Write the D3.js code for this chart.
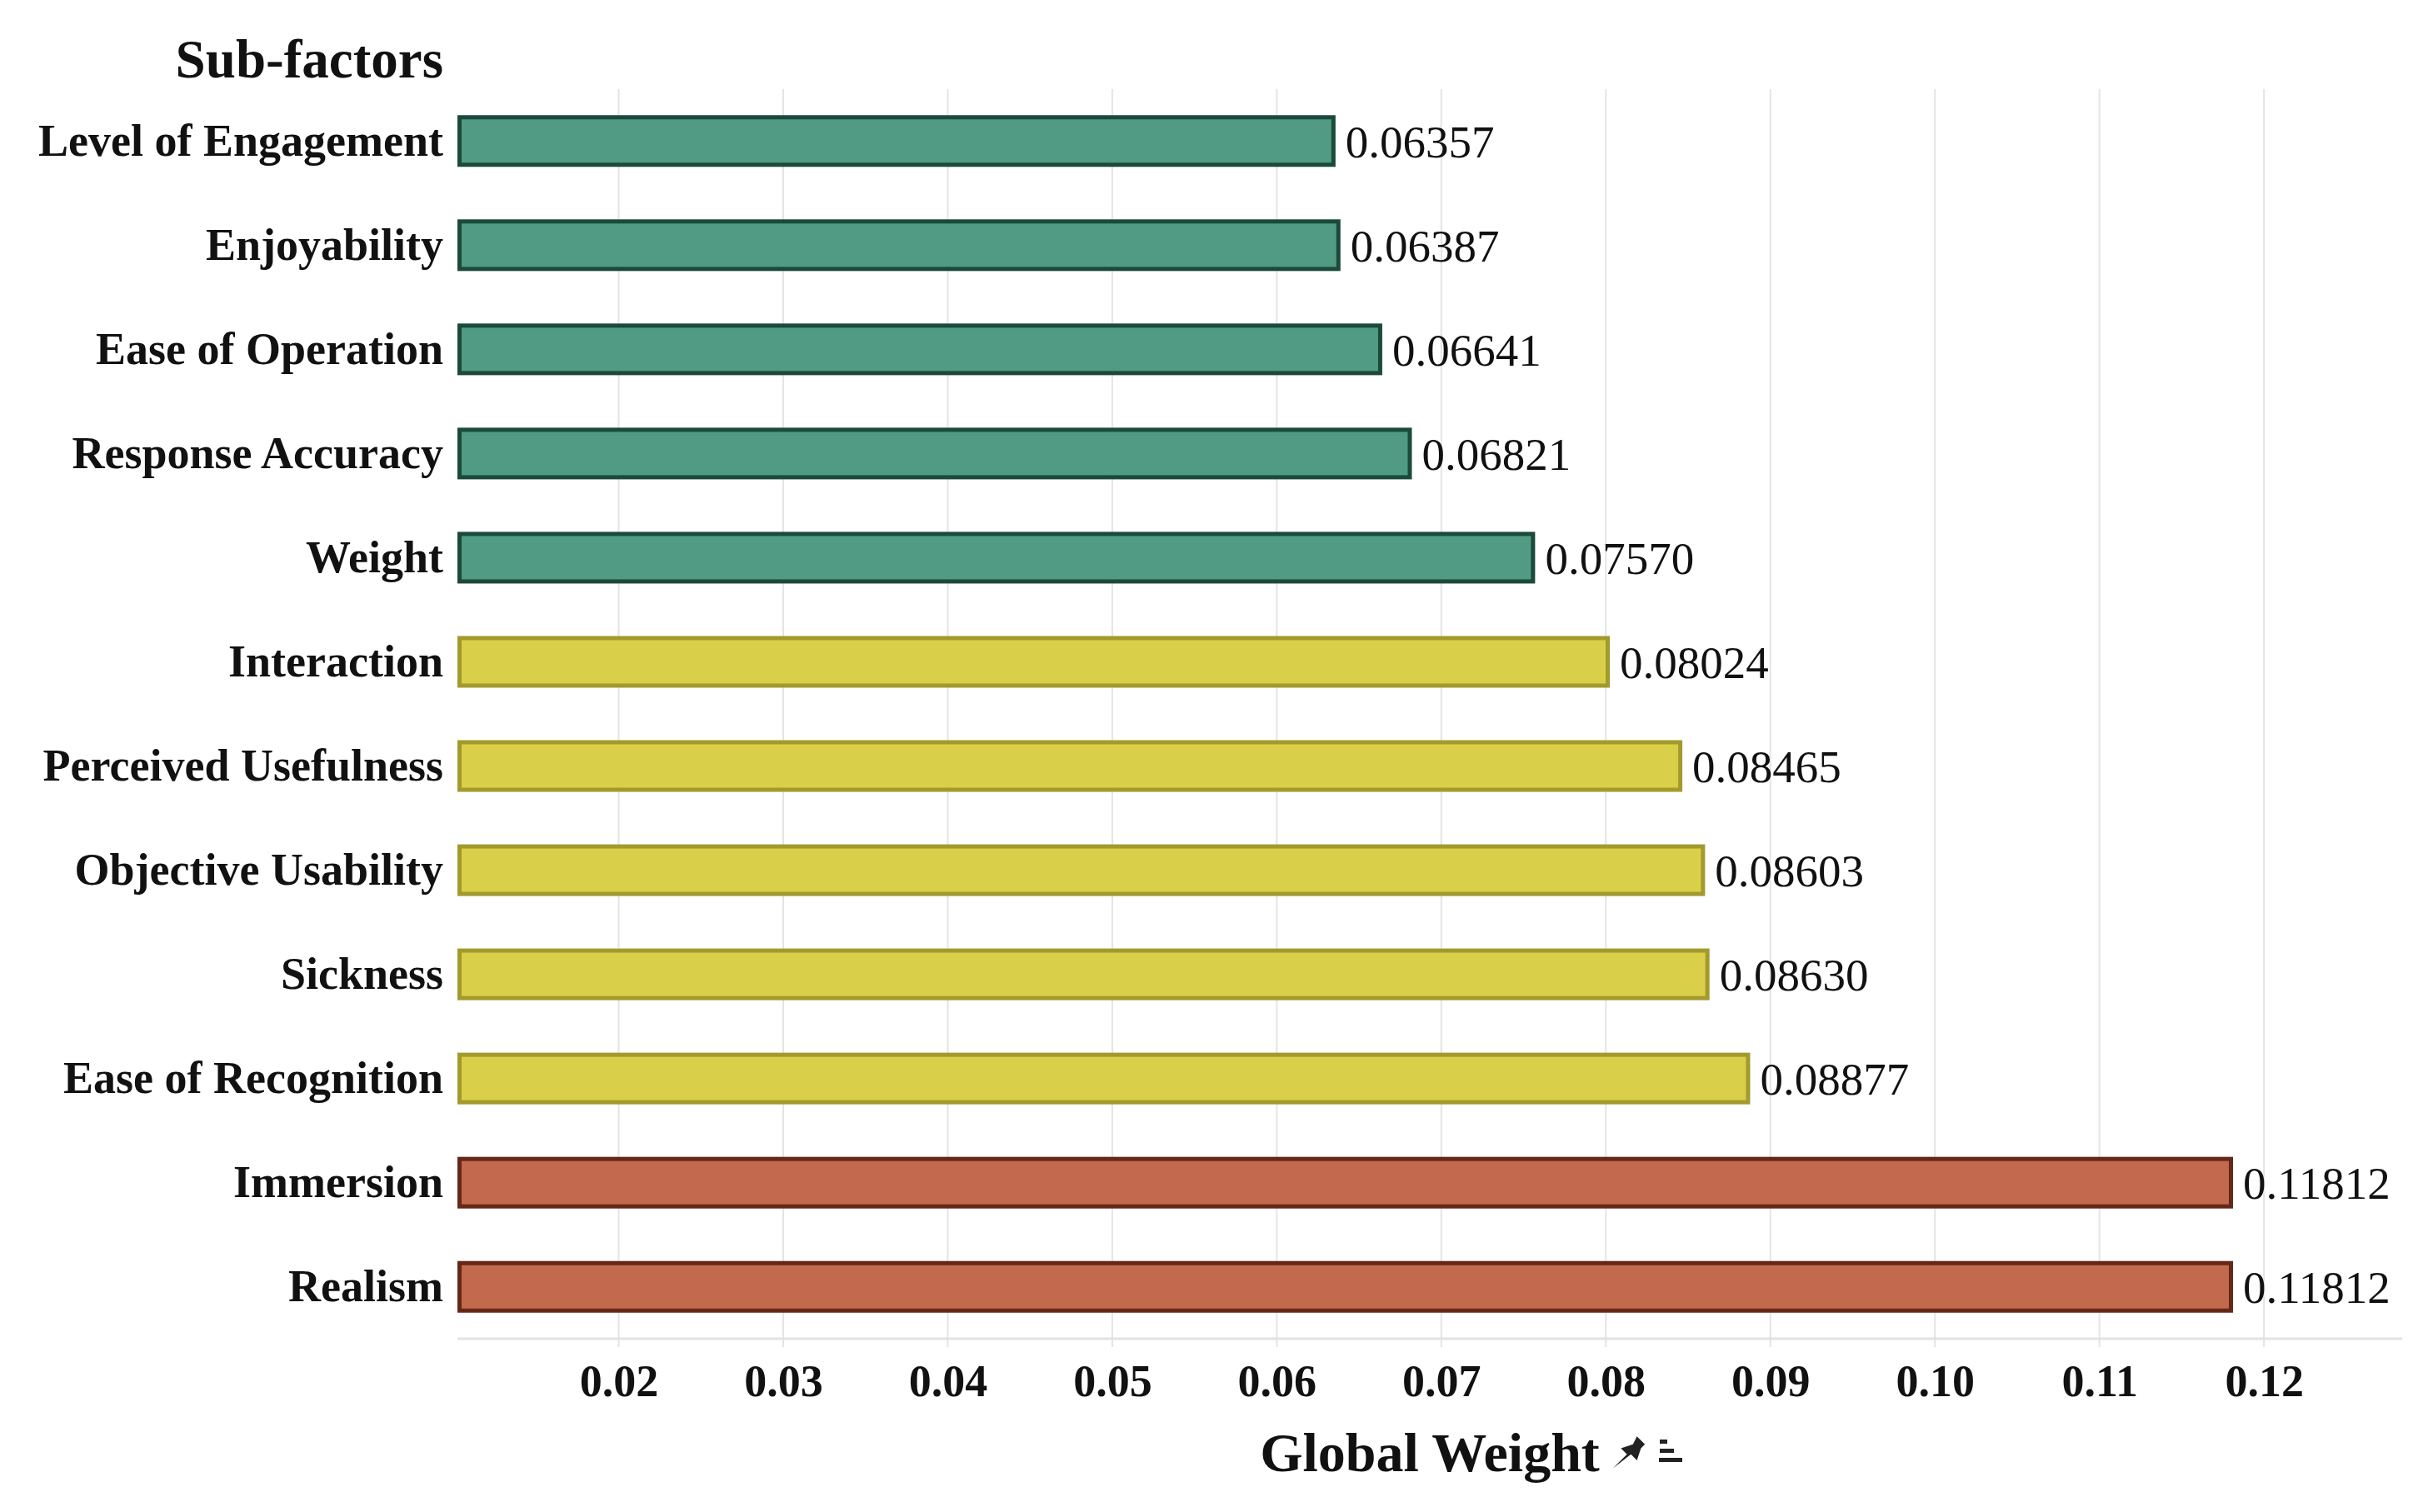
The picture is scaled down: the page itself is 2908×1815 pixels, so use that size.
<!DOCTYPE html>
<html>
<head>
<meta charset="utf-8">
<title>Sub-factors global weight</title>
<style>
  body { margin: 0; background: #fff; }
  text { font-family: "Liberation Serif", "Times New Roman", serif; fill: #111; }
</style>
</head>
<body>
<script src="https://d3js.org/d3.v7.min.js"></script>
<script>
// sub-factors, top to bottom
var categories = ["Level of Engagement", "Enjoyability", "Ease of Operation", "Response Accuracy",
  "Weight", "Interaction", "Perceived Usefulness", "Objective Usability", "Sickness",
  "Ease of Recognition", "Immersion", "Realism"];
var weights = [0.06357, 0.06387, 0.06641, 0.06821, 0.07570, 0.08024, 0.08465, 0.08603,
  0.08630, 0.08877, 0.11812, 0.11812];
var labels = ["0.06357", "0.06387", "0.06641", "0.06821", "0.07570", "0.08024", "0.08465",
  "0.08603", "0.08630", "0.08877", "0.11812", "0.11812"];
var groups = ["g", "g", "g", "g", "g", "y", "y", "y", "y", "y", "r", "r"];
var tickValues = [0.02, 0.03, 0.04, 0.05, 0.06, 0.07, 0.08, 0.09, 0.10, 0.11, 0.12];

var fills = { g: "#519b84", y: "#dacf48", r: "#c2694e" };
var strokes = { g: "#1b4a3a", y: "#a29a2c", r: "#652818" };

var width = 2908, height = 1815;
var plotLeft = 549, plotRight = 2883, plotTop = 107, plotBottom = 1607;

var svg = d3.select("body").append("svg")
  .attr("width", width)
  .attr("height", height);

var x = d3.scaleLinear()
  .domain([0.0102, 0.1284])
  .range([plotLeft, plotRight]);

var y = d3.scaleBand()
  .domain(categories)
  .range([plotTop, plotBottom])
  .paddingInner(0.504)
  .paddingOuter(0.25);

// grid lines
svg.append("g")
  .selectAll("line")
  .data(tickValues)
  .enter()
  .append("line")
  .attr("x1", function(d) { return x(d); })
  .attr("x2", function(d) { return x(d); })
  .attr("y1", plotTop)
  .attr("y2", plotBottom + 10)
  .attr("stroke", "#e4e4e4")
  .attr("stroke-width", 2);

// baseline
svg.append("line")
  .attr("x1", plotLeft)
  .attr("x2", plotRight)
  .attr("y1", plotBottom)
  .attr("y2", plotBottom)
  .attr("stroke", "#e2e2e2")
  .attr("stroke-width", 3);

// x axis labels
var xAxis = d3.axisBottom(x)
  .tickValues(tickValues)
  .tickSize(0)
  .tickPadding(0)
  .tickFormat(d3.format(".2f"));

var gx = svg.append("g")
  .attr("transform", "translate(0," + plotBottom + ")")
  .call(xAxis);
gx.select(".domain").remove();
gx.selectAll("text")
  .attr("y", 69)
  .attr("dy", 0)
  .style("font-family", "'Liberation Serif', 'Times New Roman', serif")
  .style("font-size", "54px")
  .style("font-weight", "bold")
  .style("fill", "#111");

// y axis labels
var yAxis = d3.axisLeft(y).tickSize(0).tickPadding(17);
var gy = svg.append("g")
  .attr("transform", "translate(" + plotLeft + ",0)")
  .call(yAxis);
gy.select(".domain").remove();
gy.selectAll("text")
  .style("font-family", "'Liberation Serif', 'Times New Roman', serif")
  .style("font-size", "54px")
  .style("font-weight", "bold")
  .style("fill", "#111");

// bars
var bars = svg.append("g")
  .selectAll("g")
  .data(categories)
  .enter()
  .append("g");

bars.append("rect")
  .attr("x", x(0.0102) + 2.5)
  .attr("y", function(d) { return y(d) + 2.5; })
  .attr("width", function(d, i) { return x(weights[i]) - x(0.0102) - 5; })
  .attr("height", y.bandwidth() - 5)
  .attr("fill", function(d, i) { return fills[groups[i]]; })
  .attr("stroke", function(d, i) { return strokes[groups[i]]; })
  .attr("stroke-width", 5);

bars.append("text")
  .attr("x", function(d, i) { return x(weights[i]) + 12; })
  .attr("y", function(d) { return y(d) + y.bandwidth() / 2; })
  .attr("dy", ".35em")
  .style("font-size", "55px")
  .text(function(d, i) { return labels[i]; });

// titles
svg.append("text")
  .attr("x", 532)
  .attr("y", 93)
  .style("text-anchor", "end")
  .style("font-size", "65px")
  .style("font-weight", "bold")
  .text("Sub-factors");

var cx = (plotLeft + plotRight) / 2;
svg.append("text")
  .attr("x", cx)
  .attr("y", 1766)
  .style("text-anchor", "middle")
  .style("font-size", "66px")
  .style("font-weight", "bold")
  .text("Global Weight");

// small pin + menu icons after the axis title
var icon = svg.append("g").attr("transform", "translate(1955,1741) scale(1.2)");
icon.append("path")
  .attr("d", "M-16,18 L-2,4 L-8,-2 L4,-6 L8,-14 L16,-6 L12,-2 L8,10 L2,4 Z")
  .attr("fill", "#222");
var menu = svg.append("g").attr("transform", "translate(1991,1728)");
menu.append("rect").attr("x", 1).attr("y", 0).attr("width", 9).attr("height", 5).attr("fill", "#222");
menu.append("rect").attr("x", 1).attr("y", 11).attr("width", 17).attr("height", 5).attr("fill", "#222");
menu.append("rect").attr("x", 0).attr("y", 22).attr("width", 28).attr("height", 5).attr("fill", "#222");
</script>
</body>
</html>
